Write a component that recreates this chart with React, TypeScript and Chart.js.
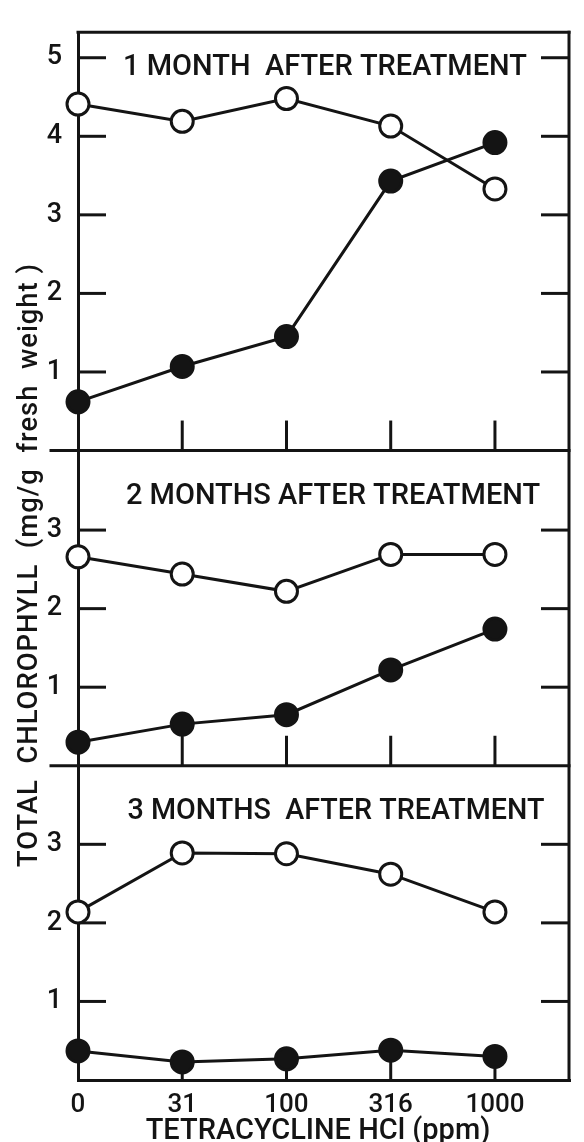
import React, { useEffect, useRef } from 'react';
import { Chart, registerables } from 'chart.js';

Chart.register(...registerables);

// ---------- data ----------
const doseLabels = ['0', '31', '100', '316', '1000'];
const xAxisTitle = 'TETRACYCLINE HCl (ppm)';
const yAxisTitle = 'TOTAL  CHLOROPHYLL  (mg/g  fresh  weight )';
const panelTitles = ['1 MONTH  AFTER TREATMENT', '2 MONTHS AFTER TREATMENT', '3 MONTHS  AFTER TREATMENT'];

const month1Open = [4.41, 4.19, 4.48, 4.13, 3.33];
const month1Filled = [0.62, 1.07, 1.45, 3.43, 3.92];
const month2Open = [2.66, 2.44, 2.22, 2.69, 2.69];
const month2Filled = [0.30, 0.53, 0.65, 1.22, 1.74];
const month3Open = [2.14, 2.89, 2.88, 2.62, 2.14];
const month3Filled = [0.37, 0.23, 0.27, 0.38, 0.30];

const panelMax = [5.325, 4.0125, 4.0];
const panel1Ticks = [1, 2, 3, 4, 5];
const panel2Ticks = [1, 2, 3];
const panel3Ticks = [1, 2, 3];
const xMax = 4.72;

// ---------- style ----------
const INK = '#141414';
const FONT = 'Roboto, "DejaVu Sans", sans-serif';
const LW = 3;

const panelIds = ['y1', 'y2', 'y3'];
const panelTickSets = [panel1Ticks, panel2Ticks, panel3Ticks];
const openSeries = [month1Open, month2Open, month3Open];
const filledSeries = [month1Filled, month2Filled, month3Filled];

const toPoints = (vals: number[]) => vals.map((y, i) => ({ x: i, y }));

const framePlugin = {
  id: 'frame',
  beforeDatasetsDraw(chart: any) {
    const { ctx, chartArea, scales } = chart;
    const xs = scales.x;
    ctx.save();
    ctx.strokeStyle = INK;
    ctx.fillStyle = INK;
    ctx.lineWidth = LW;
    ctx.lineCap = 'square';
    const seg = (x1: number, y1: number, x2: number, y2: number) => {
      ctx.beginPath();
      ctx.moveTo(x1, y1);
      ctx.lineTo(x2, y2);
      ctx.stroke();
    };
    // outer frame: top + right
    seg(chartArea.left, chartArea.top, chartArea.right - 1, chartArea.top);
    seg(chartArea.right - 1, chartArea.top, chartArea.right - 1, chartArea.bottom);
    // panel separators
    for (let p = 1; p < panelIds.length; p++) {
      const s = scales[panelIds[p]];
      seg(chartArea.left - 27, s.top, chartArea.right - 1, s.top);
    }
    ctx.lineCap = 'butt';
    panelIds.forEach((id, p) => {
      const s = scales[id];
      panelTickSets[p].forEach((v) => {
        const y = s.getPixelForValue(v);
        seg(chartArea.left, y, chartArea.left + 28, y);
        seg(chartArea.right, y, chartArea.right - 29, y);
      });
      for (let i = 1; i < doseLabels.length; i++) {
        const x = xs.getPixelForValue(i);
        seg(x, s.bottom, x, s.bottom - 30);
      }
      // panel title
      ctx.font = `500 29px ${FONT}`;
      ctx.textAlign = 'center';
      ctx.textBaseline = 'alphabetic';
      const base = p === 0 ? s.top + 43 : s.top + 53;
      const cx = [325, 333, 336][p];
      const w = [404, 423, 417][p];
      ctx.fillText(panelTitles[p], cx, base, w);
    });
    // x axis title
    ctx.font = `500 29px ${FONT}`;
    ctx.textAlign = 'center';
    ctx.fillText(xAxisTitle, 318, chartArea.bottom + 59, 349);
    // y axis title
    ctx.save();
    ctx.translate(37, 565);
    ctx.rotate(-Math.PI / 2);
    ctx.font = `500 28px ${FONT}`;
    (ctx as any).letterSpacing = '1px';
    ctx.textAlign = 'center';
    ctx.fillText(yAxisTitle, 0, 0, 604);
    ctx.restore();
    ctx.restore();
  },
};

export default function App() {
  const ref = useRef<HTMLCanvasElement | null>(null);
  useEffect(() => {
    if (!ref.current) return;
    const datasets: any[] = [];
    panelIds.forEach((id, p) => {
      datasets.push({
        data: toPoints(openSeries[p]),
        yAxisID: id,
        xAxisID: 'x',
        borderColor: INK,
        borderWidth: LW,
        pointRadius: 11,
        pointBorderWidth: 3,
        pointBackgroundColor: '#ffffff',
        pointBorderColor: INK,
        clip: false,
        fill: false,
        tension: 0,
      });
      datasets.push({
        data: toPoints(filledSeries[p]),
        yAxisID: id,
        xAxisID: 'x',
        borderColor: INK,
        borderWidth: LW,
        pointRadius: 11,
        pointBorderWidth: 3,
        pointBackgroundColor: INK,
        pointBorderColor: INK,
        clip: false,
        fill: false,
        tension: 0,
      });
    });

    const yScale = (p: number) => ({
      type: 'linear',
      position: 'left',
      stack: 'panels',
      stackWeight: panelMax[p],
      weight: 3 - p,
      min: 0,
      max: panelMax[p],
      afterBuildTicks: (scale: any) => {
        scale.ticks = panelTickSets[p].map((v) => ({ value: v }));
      },
      afterFit: (scale: any) => {
        scale.width = 78;
      },
      grid: { display: false, drawTicks: false },
      border: { display: true, color: INK, width: LW },
      ticks: {
        color: INK,
        padding: 16,
        font: { family: FONT, size: 27, weight: '500' },
      },
    });

    const chart = new Chart(ref.current, {
      type: 'line',
      data: { datasets },
      options: {
        animation: false,
        responsive: false,
        devicePixelRatio: 1,
        layout: { padding: { top: 13, right: 2, left: 0, bottom: 0 } },
        plugins: { legend: { display: false }, tooltip: { enabled: false } },
        events: [],
        scales: {
          x: {
            type: 'linear',
            position: 'bottom',
            min: 0,
            max: xMax,
            afterBuildTicks: (scale: any) => {
              scale.ticks = doseLabels.map((_, i) => ({ value: i }));
            },
            afterFit: (scale: any) => {
              scale.height = 62;
            },
            grid: { display: false, drawTicks: false },
            border: { display: true, color: INK, width: LW },
            ticks: {
              color: INK,
              padding: 10,
              maxRotation: 0,
              autoSkip: false,
              font: { family: FONT, size: 26, weight: '500' },
              callback: (v: any) => doseLabels[v as number] ?? '',
            },
          },
          y1: yScale(0),
          y2: yScale(1),
          y3: yScale(2),
        } as any,
      },
      plugins: [framePlugin],
    } as any);
    return () => chart.destroy();
  }, []);

  return (
    <div style={{ position: 'absolute', left: 0, top: 0, width: 584, height: 1142, background: '#fff' }}>
      <canvas ref={ref} width={584} height={1142} style={{ width: 584, height: 1142, display: 'block' }} />
    </div>
  );
}
